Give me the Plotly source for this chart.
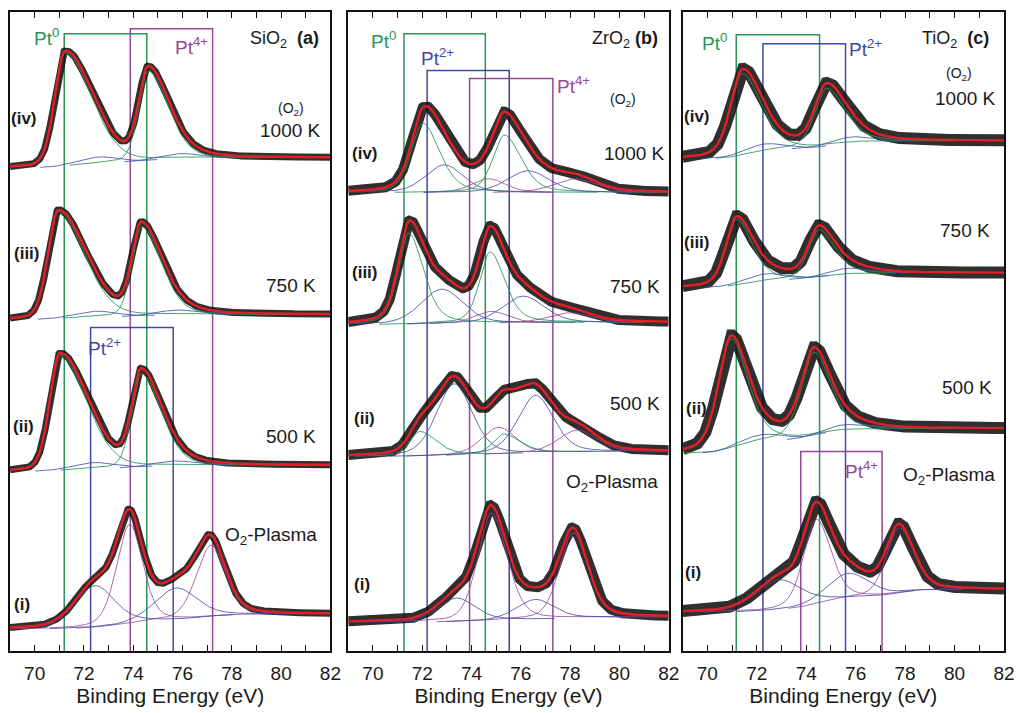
import numpy as np
import plotly.graph_objects as go

# ---------------- data ----------------
# y values are intensities in arbitrary units (stacked spectra)
x_ticks = [70, 72, 74, 76, 78, 80, 82]
spectrum_tags = ["(i)", "(ii)", "(iii)", "(iv)"]
treatments = ["O<sub>2</sub>-Plasma", "500 K", "750 K", "1000 K"]
supports = ["SiO<sub>2</sub>", "ZrO<sub>2</sub>", "TiO<sub>2</sub>"]
panel_letters = ["(a)", "(b)", "(c)"]

# background level at 69 eV and at 82 eV for spectra (i)..(iv)
a_bg_left = [22, 181, 334, 487]
a_bg_right = [37, 187, 339, 497]
b_bg_left = [29, 196, 329, 462]
b_bg_right = [34, 201, 331, 462]
c_bg_left = [39, 199, 366, 496]
c_bg_right = [62, 224, 381, 514]

# fitted components: (state, centre eV, height, HWHM low side, HWHM high side, Lorentzian fraction)
a_i_peaks = [("Pt4", 73.85, 100, 0.62, 0.62, 0.3), ("Pt4", 77.15, 72, 0.7, 0.7, 0.3),
             ("Pt2", 72.45, 42, 0.95, 0.95, 0.3), ("Pt2", 75.75, 32, 1.0, 1.0, 0.3)]
a_ii_peaks = [("Pt0", 71.02, 116, 0.48, 1.25, 0.2), ("Pt0", 74.32, 94, 0.45, 0.95, 0.2),
              ("Pt2", 72.4, 6, 1.0, 1.0, 0.3), ("Pt2", 75.7, 5, 1.0, 1.0, 0.3)]
a_iii_peaks = [("Pt0", 70.95, 108, 0.48, 1.25, 0.2), ("Pt0", 74.33, 90, 0.45, 0.95, 0.2),
               ("Pt2", 72.5, 6, 1.0, 1.0, 0.3), ("Pt2", 75.8, 5, 1.0, 1.0, 0.3)]
a_iv_peaks = [("Pt0", 71.22, 114, 0.48, 1.25, 0.2), ("Pt0", 74.6, 90, 0.45, 0.95, 0.2),
              ("Pt2", 72.6, 6, 1.0, 1.0, 0.3), ("Pt2", 75.9, 5, 1.0, 1.0, 0.3)]

b_i_peaks = [("Pt4", 74.8, 108, 0.65, 0.75, 0.3), ("Pt4", 78.12, 86, 0.65, 0.7, 0.3),
             ("Pt2", 73.4, 24, 0.9, 0.9, 0.3), ("Pt2", 76.6, 20, 0.9, 0.9, 0.3)]
b_ii_peaks = [("Pt0", 71.9, 25, 0.5, 0.8, 0.4), ("Pt2", 73.3, 72, 0.85, 0.85, 0.3),
              ("Pt4", 75.1, 27, 0.8, 0.8, 0.3), ("Pt0", 75.3, 20, 0.5, 0.8, 0.4),
              ("Pt2", 76.6, 58, 0.85, 0.85, 0.3), ("Pt4", 78.3, 22, 0.9, 0.9, 0.3)]
b_iii_peaks = [("Pt0", 71.45, 92, 0.5, 0.7, 0.4), ("Pt2", 72.8, 35, 1.0, 1.0, 0.3),
               ("Pt0", 74.75, 72, 0.5, 0.7, 0.4), ("Pt4", 74.8, 12, 0.8, 0.8, 0.3),
               ("Pt2", 76.1, 27, 1.0, 1.0, 0.3), ("Pt4", 78.0, 10, 1.0, 1.0, 0.3)]
b_iv_peaks = [("Pt0", 72.02, 70, 0.55, 0.8, 0.4), ("Pt2", 72.9, 28, 0.9, 0.9, 0.3),
              ("Pt4", 74.7, 14, 0.8, 0.8, 0.3), ("Pt0", 75.33, 58, 0.55, 0.8, 0.4),
              ("Pt2", 76.3, 22, 1.0, 1.0, 0.3), ("Pt4", 78.2, 14, 1.0, 1.0, 0.3)]

c_i_peaks = [("Pt4", 74.4, 85, 0.6, 0.7, 0.3), ("Pt4", 77.75, 66, 0.6, 0.7, 0.3),
             ("Pt2", 72.9, 30, 1.1, 1.1, 0.3), ("Pt2", 75.7, 25, 1.0, 1.0, 0.3)]
c_ii_peaks = [("Pt0", 70.95, 110, 0.6, 0.8, 0.4), ("Pt0", 74.3, 84, 0.6, 0.8, 0.4),
              ("Pt2", 72.3, 7, 1.0, 1.0, 0.3), ("Pt2", 75.6, 6, 1.0, 1.0, 0.3)]
c_iii_peaks = [("Pt0", 71.17, 66, 0.5, 0.75, 0.4), ("Pt0", 74.5, 48, 0.5, 0.75, 0.4),
               ("Pt2", 72.4, 7, 1.0, 1.0, 0.3), ("Pt2", 75.7, 6, 1.0, 1.0, 0.3)]
c_iv_peaks = [("Pt0", 71.4, 82, 0.55, 0.9, 0.4), ("Pt0", 74.8, 58, 0.55, 0.9, 0.4),
              ("Pt2", 72.3, 7, 1.0, 1.0, 0.3), ("Pt2", 75.8, 6, 1.0, 1.0, 0.3)]

# marker boxes: (state, low-BE line, high-BE line, top level)
a_boxes = [("Pt0", 71.2, 74.55, 622), ("Pt4", 73.88, 77.22, 627), ("Pt2", 72.27, 75.62, 326)]
b_boxes = [("Pt0", 71.26, 74.56, 622), ("Pt2", 72.2, 75.53, 585), ("Pt4", 73.92, 77.3, 577)]
c_boxes = [("Pt0", 71.17, 74.54, 621), ("Pt2", 72.25, 75.59, 612), ("Pt4", 73.78, 77.07, 201)]

# ---------------- styling ----------------
COL = {"Pt0": "rgb(38,150,88)", "Pt2": "rgb(62,72,165)", "Pt4": "rgb(150,70,150)"}
COMP_COL = {"Pt0": "rgba(38,150,88,0.85)", "Pt2": "rgba(62,72,165,0.8)", "Pt4": "rgba(150,70,150,0.8)"}
FONT = "Liberation Sans, Arial, sans-serif"
TXT = "#1a1a1a"

W, H = 1025, 713
ML, MR, MT, MB = 10, 13, 10, 59
PW, PH = W - ML - MR, H - MT - MB


def px(x):
    return (x - ML) / PW


def py(y):
    return (H - MB - y) / PH


domains = [[px(10), px(333)], [px(351), px(674)], [px(688), px(1012)]]
noise_w = [7, 10, 12]

xg = np.linspace(69, 82, 1041)


def component(p):
    _, c, h, wl, wr, eta = p
    w = np.where(xg < c, wl, wr)
    u = ((xg - c) / w) ** 2
    return h * (eta / (1 + u) + (1 - eta) * np.exp(-np.log(2) * u))


def spectrum(peaks, left, right):
    comps = [component(p) for p in peaks]
    total = np.sum(comps, axis=0)
    cum = np.cumsum(total)
    bg = left + (right - left) * cum / cum[-1]
    return bg, comps, total


panel_peaks = [
    [a_i_peaks, a_ii_peaks, a_iii_peaks, a_iv_peaks],
    [b_i_peaks, b_ii_peaks, b_iii_peaks, b_iv_peaks],
    [c_i_peaks, c_ii_peaks, c_iii_peaks, c_iv_peaks],
]
panel_bg = [(a_bg_left, a_bg_right), (b_bg_left, b_bg_right), (c_bg_left, c_bg_right)]
panel_boxes = [a_boxes, b_boxes, c_boxes]

fig = go.Figure()
shapes = []
annotations = []

for k in range(3):
    xa = "x" if k == 0 else f"x{k+1}"
    ya = "y" if k == 0 else f"y{k+1}"
    for s in range(4):
        bg, comps, total = spectrum(panel_peaks[k][s], panel_bg[k][0][s], panel_bg[k][1][s])
        fit = bg + total
        # measured data (drawn as a dark band around the envelope)
        fig.add_trace(go.Scatter(x=xg, y=fit, mode="lines", xaxis=xa, yaxis=ya,
                                 line=dict(color="rgba(10,10,10,0.85)", width=noise_w[k]),
                                 hoverinfo="skip", showlegend=False))
        for p, cy in zip(panel_peaks[k][s], comps):
            yy = np.where(cy > 0.35, bg + cy, np.nan)
            fig.add_trace(go.Scatter(x=xg, y=yy, mode="lines", xaxis=xa, yaxis=ya,
                                     line=dict(color=COMP_COL[p[0]], width=1),
                                     hoverinfo="skip", showlegend=False, connectgaps=False))
        fig.add_trace(go.Scatter(x=xg, y=fit, mode="lines", xaxis=xa, yaxis=ya,
                                 line=dict(color="rgb(228,30,36)", width=2.4),
                                 hoverinfo="skip", showlegend=False))
    for state, x0, x1, top in panel_boxes[k]:
        shapes.append(dict(type="path", xref=xa, yref=ya,
                           path=f"M {x0} -5 L {x0} {top} L {x1} {top} L {x1} -5",
                           line=dict(color=COL[state], width=1.5), layer="below"))

# axes
for k in range(3):
    sx = "" if k == 0 else str(k + 1)
    fig.update_layout(**{
        f"xaxis{sx}": dict(domain=domains[k], range=[69, 82], anchor=f"y{sx}",
                           tickvals=x_ticks, ticks="inside", ticklen=6, tickwidth=1.3,
                           tickcolor="#111", showline=True, linecolor="#111", linewidth=1.5,
                           mirror="ticks", showgrid=False, zeroline=False,
                           ticklabelstandoff=4,
                           tickfont=dict(family=FONT, size=19, color=TXT),
                           minor=dict(dtick=1, tick0=69, ticks="inside", ticklen=6,
                                      tickwidth=1.3, tickcolor="#111", showgrid=False),
                           title=dict(text="Binding Energy (eV)", standoff=5,
                                      font=dict(family=FONT, size=21, color=TXT))),
        f"yaxis{sx}": dict(domain=[0, 1], range=[0, 644], anchor=f"x{sx}",
                           showticklabels=False, ticks="", showline=True, linecolor="#111",
                           linewidth=1.5, mirror=True, showgrid=False, zeroline=False),
    })


def add_text(x, y, text, size=18, color=TXT, xanchor="center"):
    annotations.append(dict(x=px(x), y=py(y), xref="paper", yref="paper", text=text,
                            showarrow=False, xanchor=xanchor, yanchor="middle",
                            font=dict(family=FONT, size=size, color=color)))


# panel (a) labels
add_text(47, 35, "Pt<sup>0</sup>", 19, COL["Pt0"])
add_text(193, 44, "Pt<sup>4+</sup>", 19, COL["Pt4"])
add_text(105, 348, "Pt<sup>2+</sup>", 19, COL["Pt2"])
add_text(287, 38, supports[0] + "  <b>" + panel_letters[0] + "</b>", 18)
add_text(293, 108, "(O<sub>2</sub>)", 14)
add_text(293, 129, treatments[3], 19)
add_text(293, 286, treatments[2], 19)
add_text(293, 438, treatments[1], 19)
add_text(273, 538, treatments[0], 19)
add_text(24, 117, "<b>" + spectrum_tags[3] + "</b>", 17)
add_text(27, 253, "<b>" + spectrum_tags[2] + "</b>", 17)
add_text(24, 428, "<b>" + spectrum_tags[1] + "</b>", 17)
add_text(22, 607, "<b>" + spectrum_tags[0] + "</b>", 17)

# panel (b) labels
add_text(387, 38, "Pt<sup>0</sup>", 19, COL["Pt0"])
add_text(441, 55, "Pt<sup>2+</sup>", 19, COL["Pt2"])
add_text(578, 84, "Pt<sup>4+</sup>", 19, COL["Pt4"])
add_text(630, 38, supports[1] + " <b>" + panel_letters[1] + "</b>", 18)
add_text(628, 99, "(O<sub>2</sub>)", 14)
add_text(640, 153, treatments[3], 19)
add_text(640, 287, treatments[2], 19)
add_text(640, 405, treatments[1], 19)
add_text(617, 485, treatments[0], 19)
add_text(368, 153, "<b>" + spectrum_tags[3] + "</b>", 17)
add_text(368, 273, "<b>" + spectrum_tags[2] + "</b>", 17)
add_text(367, 420, "<b>" + spectrum_tags[1] + "</b>", 17)
add_text(365, 587, "<b>" + spectrum_tags[0] + "</b>", 17)

# panel (c) labels
add_text(720, 40, "Pt<sup>0</sup>", 19, COL["Pt0"])
add_text(872, 46, "Pt<sup>2+</sup>", 19, COL["Pt2"])
add_text(868, 472, "Pt<sup>4+</sup>", 19, COL["Pt4"])
add_text(963, 38, supports[2] + "  <b>" + panel_letters[2] + "</b>", 18)
add_text(967, 72, "(O<sub>2</sub>)", 14)
add_text(973, 97, treatments[3], 19)
add_text(973, 230, treatments[2], 19)
add_text(975, 388, treatments[1], 19)
add_text(957, 478, treatments[0], 19)
add_text(703, 115, "<b>" + spectrum_tags[3] + "</b>", 17)
add_text(703, 242, "<b>" + spectrum_tags[2] + "</b>", 17)
add_text(702, 410, "<b>" + spectrum_tags[1] + "</b>", 17)
add_text(698, 575, "<b>" + spectrum_tags[0] + "</b>", 17)

fig.update_layout(width=W, height=H, margin=dict(l=ML, r=MR, t=MT, b=MB),
                  paper_bgcolor="white", plot_bgcolor="white",
                  shapes=shapes, annotations=annotations, showlegend=False)

fig.write_html("out.html")
